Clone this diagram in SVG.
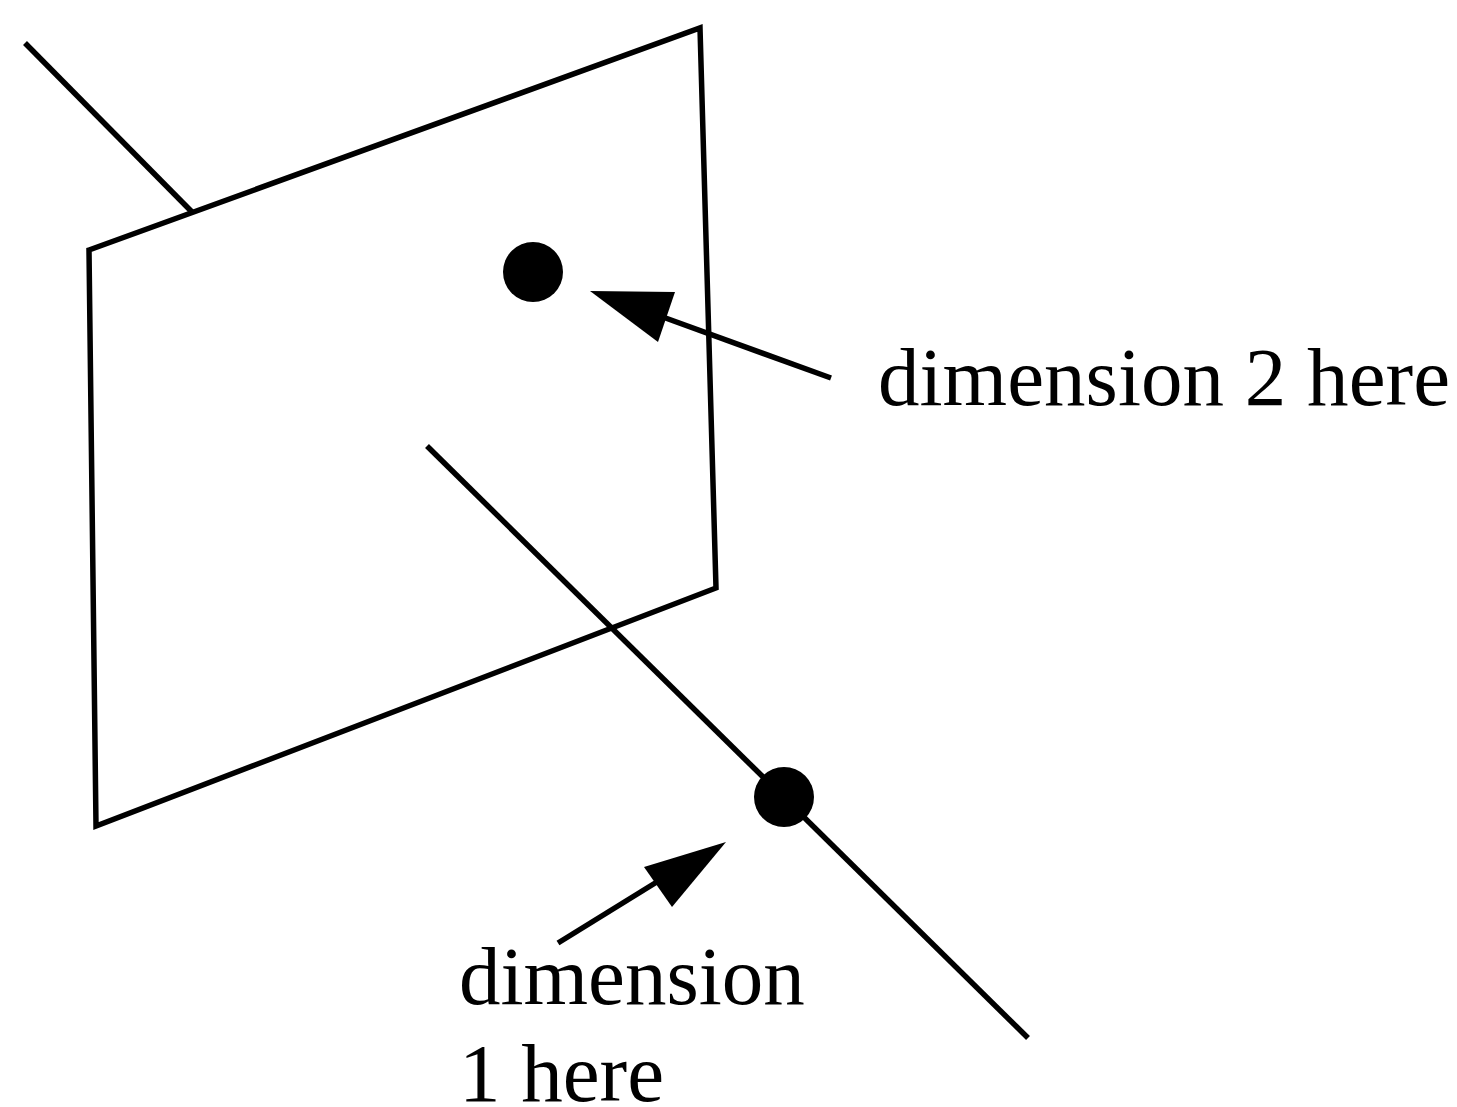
<svg xmlns="http://www.w3.org/2000/svg" width="1457" height="1107" viewBox="0 0 1457 1107">
<style>
.ln{fill:none;stroke:#000;stroke-width:5.5;stroke-linejoin:miter;stroke-linecap:butt}
.lbl{font-family:"Liberation Serif","Times New Roman",serif;font-size:83px;fill:#000}
</style>
<rect width="1457" height="1107" fill="#fff"/>
<g id="plane">
<polygon class="ln" points="89,250 700,28 716,588 96,826"/>
</g>
<g id="connectors">
<line class="ln" x1="25" y1="43" x2="193" y2="213"/>
<line class="ln" x1="427" y1="446" x2="1028" y2="1038"/>
<line class="ln" x1="831" y1="378" x2="660" y2="316"/>
<polygon points="590,291 675,292 658,342" fill="#000"/>
<line class="ln" x1="558" y1="943" x2="660" y2="880"/>
<polygon points="726,842 644,867 672,907" fill="#000"/>
</g>
<g id="dot2">
<circle cx="533" cy="272" r="30" fill="#000"/>
</g>
<g id="dot1">
<circle cx="784" cy="797" r="30" fill="#000"/>
</g>
<g id="label2">
<text class="lbl" x="878" y="405" textLength="572">dimension 2 here</text>
</g>
<g id="label1">
<text class="lbl" x="459" y="1004">dimension</text>
<text class="lbl" x="459" y="1101">1 here</text>
</g>
</svg>
